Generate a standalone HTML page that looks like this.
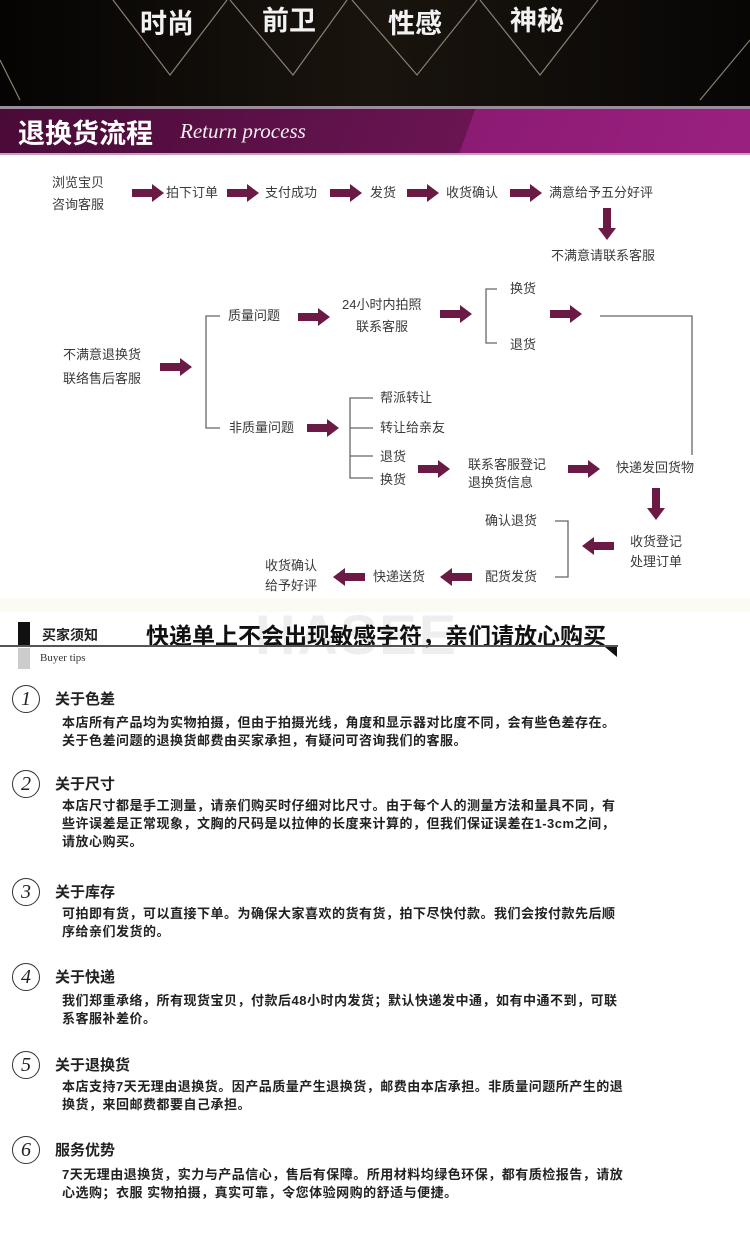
<!DOCTYPE html>
<html><head><meta charset="utf-8"><style>
*{margin:0;padding:0;box-sizing:border-box}
body{width:750px;height:1252px;background:#fff;position:relative;overflow:hidden;font-family:"Liberation Sans","Noto Sans CJK SC",sans-serif;color:#333}
.t{position:absolute;font-size:13px;line-height:16px;white-space:nowrap;color:#3a3a3a}
.a{position:absolute}
.h{position:absolute;font-size:15px;font-weight:bold;color:#222;white-space:nowrap}
.b{position:absolute;font-size:13px;letter-spacing:0.5px;font-weight:bold;color:#222;line-height:18px;white-space:nowrap}
.c{position:absolute;width:28px;height:28px;border:1.5px solid #333;border-radius:50%;font-family:"Liberation Serif",serif;font-style:italic;font-size:20px;text-align:center;line-height:26px;color:#222}
</style></head><body>
<div style="position:absolute;left:0;top:0;width:750px;height:106px;background:linear-gradient(90deg,#050403,#1a140e 50%,#070605)"></div>
<svg class="a" style="left:0;top:0" width="750" height="106">
<g fill="none" stroke="#8a7f70" stroke-width="1.2">
<polyline points="113,0 170,75 227,0"/><polyline points="230,0 293,75 347,0"/><polyline points="352,0 417,75 477,0"/><polyline points="480,0 540,75 598,0"/>
<line x1="0" y1="60" x2="20" y2="100"/><line x1="750" y1="40" x2="700" y2="100"/>
</g>
<g font-family="Noto Sans CJK SC,sans-serif" font-weight="bold" font-size="27" fill="#f2f2f2">
<text x="140" y="33">时尚</text><text x="262" y="30">前卫</text><text x="388" y="33">性感</text><text x="510" y="30">神秘</text></g>
</svg>
<div style="position:absolute;left:0;top:106px;width:750px;height:3px;background:#9a8c9a"></div>
<div style="position:absolute;left:0;top:109px;width:750px;height:44px;background:linear-gradient(110deg,#4a0a38 0,#6a1552 62%,#8c1b74 62.1%,#9a2080 100%)"></div>
<div style="position:absolute;left:0;top:153px;width:750px;height:2px;background:#c9a0c0"></div>
<div class="a" style="left:18px;top:112px;font-size:27px;font-weight:bold;color:#fff;font-family:'Noto Sans CJK SC',sans-serif">退换货流程</div>
<div class="a" style="left:180px;top:119px;font-size:21px;font-style:italic;color:#eee;font-family:'Liberation Serif',serif">Return process</div>

<svg class="a" style="left:0;top:0" width="750" height="620">
<defs><path id="ar" d="M0,-4 H20 V-9 L32,0 L20,9 V4 H0 Z" fill="#6b1a45"/></defs>
<use href="#ar" x="132" y="193"/><use href="#ar" x="227" y="193"/><use href="#ar" x="330" y="193"/><use href="#ar" x="407" y="193"/><use href="#ar" x="510" y="193"/>
<use href="#ar" transform="translate(607,208) rotate(90)"/>
<use href="#ar" x="160" y="367"/><use href="#ar" x="298" y="317"/><use href="#ar" x="440" y="314"/><use href="#ar" x="550" y="314"/>
<use href="#ar" x="307" y="428"/><use href="#ar" x="418" y="469"/><use href="#ar" x="568" y="469"/>
<use href="#ar" transform="translate(656,488) rotate(90)"/>
<use href="#ar" transform="translate(614,546) rotate(180)"/><use href="#ar" transform="translate(472,577) rotate(180)"/><use href="#ar" transform="translate(365,577) rotate(180)"/>
<g fill="none" stroke="#666" stroke-width="1.3">
<polyline points="220,316 206,316 206,428 220,428"/>
<polyline points="497,289 486,289 486,343 497,343"/>
<polyline points="600,316 692,316 692,455"/>
<polyline points="373,398 350,398 350,478 373,478"/><line x1="350" y1="428" x2="373" y2="428"/><line x1="350" y1="456" x2="373" y2="456"/>
<polyline points="555,521 568,521 568,577 555,577"/>
</g>
</svg>
<div class="t" style="left:52px;top:175px">浏览宝贝</div><div class="t" style="left:52px;top:197px">咨询客服</div>
<div class="t" style="left:166px;top:185px">拍下订单</div>
<div class="t" style="left:265px;top:185px">支付成功</div>
<div class="t" style="left:370px;top:185px">发货</div>
<div class="t" style="left:446px;top:185px">收货确认</div>
<div class="t" style="left:549px;top:185px">满意给予五分好评</div>
<div class="t" style="left:551px;top:248px">不满意请联系客服</div>
<div class="t" style="left:63px;top:347px">不满意退换货</div><div class="t" style="left:63px;top:371px">联络售后客服</div>
<div class="t" style="left:228px;top:308px">质量问题</div>
<div class="t" style="left:342px;top:297px">24小时内拍照</div><div class="t" style="left:356px;top:319px">联系客服</div>
<div class="t" style="left:510px;top:281px">换货</div><div class="t" style="left:510px;top:337px">退货</div>
<div class="t" style="left:229px;top:420px">非质量问题</div>
<div class="t" style="left:380px;top:390px">帮派转让</div><div class="t" style="left:380px;top:420px">转让给亲友</div>
<div class="t" style="left:380px;top:449px">退货</div><div class="t" style="left:380px;top:472px">换货</div>
<div class="t" style="left:468px;top:457px">联系客服登记</div><div class="t" style="left:468px;top:475px">退换货信息</div>
<div class="t" style="left:616px;top:460px">快递发回货物</div>
<div class="t" style="left:630px;top:534px">收货登记</div><div class="t" style="left:630px;top:554px">处理订单</div>
<div class="t" style="left:485px;top:513px">确认退货</div><div class="t" style="left:485px;top:569px">配货发货</div>
<div class="t" style="left:373px;top:569px">快递送货</div>
<div class="t" style="left:265px;top:558px">收货确认</div><div class="t" style="left:265px;top:578px">给予好评</div>

<div style="position:absolute;left:0;top:598px;width:750px;height:14px;background:#fbfbf3"></div>
<div class="a" style="left:255px;top:602px;font-size:56px;color:#eee;font-weight:bold;letter-spacing:2px">HASEE</div>
<div class="a" style="left:18px;top:622px;width:12px;height:24px;background:#111"></div>
<div class="a" style="left:18px;top:648px;width:12px;height:21px;background:#ccc"></div>
<div class="a" style="left:42px;top:625px;font-size:14px;font-weight:bold;color:#222">买家须知</div>
<div class="a" style="left:146px;top:617px;font-size:23px;font-weight:bold;color:#111">快递单上不会出现敏感字符，亲们请放心购买</div>
<div class="a" style="left:0;top:645px;width:618px;height:2px;background:#555"></div>
<div class="a" style="left:605px;top:647px;width:0;height:0;border-left:12px solid transparent;border-top:10px solid #111"></div>
<div class="a" style="left:40px;top:652px;font-size:11px;font-family:'Liberation Serif',serif;color:#333">Buyer tips</div>

<div class="c" style="left:12px;top:685px">1</div><div class="h" style="left:55px;top:688px">关于色差</div>
<div class="b" style="left:62px;top:714px">本店所有产品均为实物拍摄，但由于拍摄光线，角度和显示器对比度不同，会有些色差存在。<br>关于色差问题的退换货邮费由买家承担，有疑问可咨询我们的客服。</div>
<div class="c" style="left:12px;top:770px">2</div><div class="h" style="left:55px;top:773px">关于尺寸</div>
<div class="b" style="left:62px;top:797px">本店尺寸都是手工测量，请亲们购买时仔细对比尺寸。由于每个人的测量方法和量具不同，有<br>些许误差是正常现象，文胸的尺码是以拉伸的长度来计算的，但我们保证误差在1-3cm之间，<br>请放心购买。</div>
<div class="c" style="left:12px;top:878px">3</div><div class="h" style="left:55px;top:881px">关于库存</div>
<div class="b" style="left:62px;top:905px">可拍即有货，可以直接下单。为确保大家喜欢的货有货，拍下尽快付款。我们会按付款先后顺<br>序给亲们发货的。</div>
<div class="c" style="left:12px;top:963px">4</div><div class="h" style="left:55px;top:966px">关于快递</div>
<div class="b" style="left:62px;top:992px">我们郑重承络，所有现货宝贝，付款后48小时内发货；默认快递发中通，如有中通不到，可联<br>系客服补差价。</div>
<div class="c" style="left:12px;top:1051px">5</div><div class="h" style="left:55px;top:1054px">关于退换货</div>
<div class="b" style="left:62px;top:1078px">本店支持7天无理由退换货。因产品质量产生退换货，邮费由本店承担。非质量问题所产生的退<br>换货，来回邮费都要自己承担。</div>
<div class="c" style="left:12px;top:1136px">6</div><div class="h" style="left:55px;top:1139px">服务优势</div>
<div class="b" style="left:62px;top:1166px">7天无理由退换货，实力与产品信心，售后有保障。所用材料均绿色环保，都有质检报告，请放<br>心选购；衣服 实物拍摄，真实可靠，令您体验网购的舒适与便捷。</div>
</body></html>
